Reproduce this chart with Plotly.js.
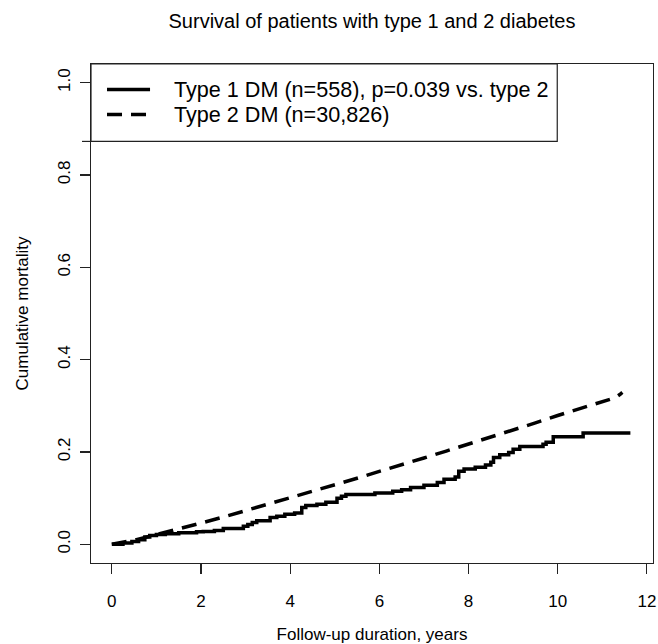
<!DOCTYPE html>
<html>
<head>
<meta charset="utf-8">
<script src="https://cdn.plot.ly/plotly-3.0.1.min.js"></script>
<style>html,body{margin:0;padding:0;background:#fff;}#chart{width:658px;height:644px;}</style>
</head>
<body>
<div id="chart"></div>
<script>
// Type 1 DM: Kaplan-Meier style cumulative mortality (step curve)
const type1Years = [0, 0.25, 0.45, 0.6, 0.74, 0.85, 1.0, 1.2, 1.5, 1.9,
  2.05, 2.3, 2.5, 2.95, 3.05, 3.15, 3.25, 3.55, 3.7, 3.88,
  4.1, 4.26, 4.35, 4.6, 4.8, 5.05, 5.15, 5.25, 5.9, 6.3,
  6.5, 6.7, 7.0, 7.3, 7.45, 7.7, 7.78, 7.9, 8.15, 8.38,
  8.5, 8.56, 8.7, 8.9, 9.0, 9.15, 9.67, 9.74, 9.9, 10.57, 11.63];
const type1Mortality = [0, 0.003, 0.006, 0.010, 0.016, 0.019, 0.021, 0.023, 0.025, 0.027,
  0.028, 0.030, 0.034, 0.039, 0.043, 0.047, 0.051, 0.058, 0.061, 0.065,
  0.068, 0.080, 0.084, 0.087, 0.091, 0.100, 0.104, 0.108, 0.111, 0.115,
  0.118, 0.123, 0.128, 0.134, 0.141, 0.146, 0.158, 0.163, 0.167, 0.172,
  0.178, 0.188, 0.194, 0.199, 0.206, 0.212, 0.217, 0.221, 0.233, 0.241, 0.241];

// Type 2 DM: cumulative mortality
const type2Years = [0, 0.5, 1, 1.5, 2, 2.5, 3, 3.5, 4, 4.5, 5, 5.5, 6, 6.5, 7, 7.5,
  8, 8.5, 9, 9.5, 10, 10.5, 11, 11.3, 11.4, 11.45];
const type2Mortality = [0, 0.009, 0.021, 0.033, 0.046, 0.059, 0.073, 0.087, 0.100, 0.114,
  0.128, 0.143, 0.158, 0.172, 0.187, 0.202, 0.217, 0.232, 0.248, 0.263,
  0.279, 0.294, 0.309, 0.318, 0.325, 0.329];

const legendLabels = ["Type 1 DM (n=558), p=0.039 vs. type 2", "Type 2 DM (n=30,826)"];
const xTicks = [0, 2, 4, 6, 8, 10, 12];
const yTicks = [0.0, 0.2, 0.4, 0.6, 0.8, 1.0];
const yTickText = ["0.0", "0.2", "0.4", "0.6", "0.8", "1.0"];

const FONT = "Liberation Sans, Arial, Helvetica, sans-serif";
const W = 658, H = 644;
const M = {l: 91, r: 5.3, t: 63.5, b: 81};
const PW = W - M.l - M.r, PH = H - M.t - M.b;
const px = x => (x - M.l) / PW;
const py = y => (H - M.b - y) / PH;

const traces = [
  {x: type1Years, y: type1Mortality, type: "scatter", mode: "lines",
   line: {color: "#000", width: 3.5, shape: "hv"}, name: legendLabels[0], showlegend: false},
  {x: type2Years, y: type2Mortality, type: "scatter", mode: "lines",
   line: {color: "#000", width: 3.5, dash: "15px,9px"}, name: legendLabels[1], showlegend: false}
];

const layout = {
  width: W, height: H,
  margin: M,
  paper_bgcolor: "#fff", plot_bgcolor: "#fff",
  font: {family: FONT, color: "#000", size: 17},
  title: {text: "Survival of patients with type 1 and 2 diabetes", font: {family: FONT, size: 20, color: "#000"},
          xref: "paper", x: 0.5, xanchor: "center", yref: "container", y: 1 - 21/H, yanchor: "middle"},
  xaxis: {range: [-0.467, 12.137], tickvals: xTicks, ticktext: xTicks.map(String),
          showgrid: false, zeroline: false, showline: true, mirror: true, linecolor: "#222", linewidth: 1.2,
          ticks: "outside", ticklen: 10, tickwidth: 1.2, tickcolor: "#222",
          tickfont: {family: FONT, size: 17, color: "#000"}, ticklabelstandoff: 12,
          title: {text: "Follow-up duration, years", font: {family: FONT, size: 17, color: "#000"}, standoff: 26}},
  yaxis: {range: [-0.0405, 1.0405], tickvals: yTicks, ticktext: yTickText, tickangle: -90,
          showgrid: false, zeroline: false, showline: true, mirror: true, linecolor: "#222", linewidth: 1.2,
          ticks: "outside", ticklen: 10, tickwidth: 1.2, tickcolor: "#222",
          tickfont: {family: FONT, size: 17, color: "#000"}, ticklabelstandoff: 3,
          title: {text: "Cumulative mortality", font: {family: FONT, size: 17, color: "#000"}, standoff: 22}},
  shapes: [
    {type: "rect", xref: "paper", yref: "paper", x0: 0, x1: px(557), y0: py(141), y1: 1,
     line: {color: "#222", width: 1.2}, fillcolor: "rgba(0,0,0,0)"},
    {type: "line", xref: "paper", yref: "paper", x0: px(82), x1: 0, y0: py(141), y1: py(141),
     line: {color: "#222", width: 1.2}},
    {type: "line", xref: "paper", yref: "paper", x0: px(107), x1: px(150), y0: py(89), y1: py(89),
     line: {color: "#000", width: 3.5}},
    {type: "line", xref: "paper", yref: "paper", x0: px(107), x1: px(150), y0: py(114), y1: py(114),
     line: {color: "#000", width: 3.5, dash: "15px,9px"}}
  ],
  annotations: [
    {xref: "paper", yref: "paper", x: px(172), y: py(89), xanchor: "left", yanchor: "middle", align: "left",
     text: legendLabels[0], showarrow: false, font: {family: FONT, size: 21.6, color: "#000"}},
    {xref: "paper", yref: "paper", x: px(172), y: py(114), xanchor: "left", yanchor: "middle", align: "left",
     text: legendLabels[1], showarrow: false, font: {family: FONT, size: 21.6, color: "#000"}}
  ]
};

Plotly.newPlot("chart", traces, layout, {staticPlot: true, displayModeBar: false});
</script>
</body>
</html>
